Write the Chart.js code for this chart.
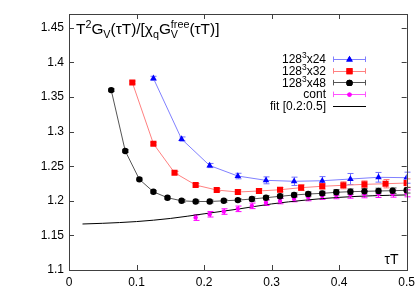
<!DOCTYPE html>
<html>
<head>
<meta charset="utf-8">
<script src="https://cdn.jsdelivr.net/npm/chart.js@4"></script>
<style>
  html, body { margin: 0; padding: 0; background: #fff; }
  canvas { display: block; }
</style>
</head>
<body>
<canvas id="chart" width="420" height="294"></canvas>
<script>
// values
const tau24 = [0.125, 0.1667, 0.2083, 0.25, 0.2917, 0.3333, 0.375, 0.4167, 0.4583, 0.5];
const val24 = [1.377, 1.2893, 1.251, 1.2358, 1.2296, 1.2282, 1.229, 1.2315, 1.234, 1.2334];
const err24 = [0.003, 0.003, 0.003, 0.004, 0.005, 0.006, 0.006, 0.008, 0.007, 0.008];

const tau32 = [0.09375, 0.125, 0.15625, 0.1875, 0.21875, 0.25, 0.28125, 0.3125, 0.34375, 0.375, 0.40625, 0.4375, 0.46875, 0.5];
const val32 = [1.371, 1.2825, 1.2406, 1.2228, 1.2156, 1.2127, 1.2142, 1.216, 1.219, 1.221, 1.2224, 1.2238, 1.2247, 1.2257];
const err32 = [0.002, 0.002, 0.002, 0.002, 0.002, 0.003, 0.003, 0.003, 0.004, 0.004, 0.005, 0.005, 0.006, 0.006];

const tau48 = [0.0625, 0.0833, 0.1042, 0.125, 0.1458, 0.1667, 0.1875, 0.2083, 0.2292, 0.25, 0.2708,
  0.2917, 0.3125, 0.3333, 0.3542, 0.375, 0.3958, 0.4167, 0.4375, 0.4583, 0.4792, 0.5];
const val48 = [1.36, 1.272, 1.231, 1.213, 1.2045, 1.2, 1.199, 1.199, 1.2, 1.201, 1.2026,
  1.2045, 1.2065, 1.2084, 1.2098, 1.2108, 1.2123, 1.2132, 1.2137, 1.2142, 1.2146, 1.2152];
const err48 = [0.002, 0.002, 0.002, 0.002, 0.002, 0.002, 0.002, 0.002, 0.002, 0.002, 0.003,
  0.003, 0.003, 0.003, 0.003, 0.003, 0.004, 0.004, 0.004, 0.004, 0.004, 0.004];

const tauCont = [0.1875, 0.2083, 0.2292, 0.25, 0.2708, 0.2917, 0.3125, 0.3333, 0.3542, 0.375, 0.3958,
  0.4167, 0.4375, 0.4583, 0.4792, 0.5];
const valCont = [1.1757, 1.1806, 1.1845, 1.1884, 1.1927, 1.1973, 1.1997, 1.2026, 1.205, 1.207, 1.208,
  1.2088, 1.2094, 1.2098, 1.2103, 1.2108];
const errCont = [0.004, 0.004, 0.004, 0.004, 0.004, 0.004, 0.004, 0.004, 0.005, 0.005, 0.005,
  0.005, 0.005, 0.005, 0.005, 0.005];

const tauFit = [0.02, 0.05, 0.1, 0.15, 0.2, 0.25, 0.3, 0.35, 0.4, 0.45, 0.5];
const valFit = [1.1665, 1.1675, 1.17, 1.1745, 1.1812, 1.188, 1.1955, 1.201, 1.205, 1.2073, 1.2085];

const xTicks = [0, 0.1, 0.2, 0.3, 0.4, 0.5];
const yTicks = [1.1, 1.15, 1.2, 1.25, 1.3, 1.35, 1.4, 1.45];

const FONT = "'Liberation Sans', Arial, Helvetica, sans-serif";

const pts = (xs, ys) => xs.map((x, i) => ({ x, y: ys[i] }));

const series = [
  { label: '128', lat: 'x24', xs: tau24, ys: val24, err: err24, color: '#0000ff', line: '#8080ff', errc: '#7070ff', style: 'triangle', r: 3.8 },
  { label: '128', lat: 'x32', xs: tau32, ys: val32, err: err32, color: '#ff0000', line: '#ff8080', errc: '#ff7070', style: 'rect', r: 4.3 },
  { label: '128', lat: 'x48', xs: tau48, ys: val48, err: err48, color: '#000000', line: '#555555', errc: '#555555', style: 'circle', r: 3.2 },
  { label: 'cont', xs: tauCont, ys: valCont, err: errCont, color: '#ff00ff', line: '#ff55ff', errc: '#ff00ff', style: 'circle', r: 2.2, noLine: true },
];

const datasets = series.map((s) => ({
  label: s.label + (s.lat || ''),
  data: pts(s.xs, s.ys),
  showLine: !s.noLine,
  borderColor: s.line,
  borderWidth: 1,
  pointStyle: s.style,
  pointRadius: s.r,
  pointBackgroundColor: s.color,
  pointBorderColor: s.color,
  pointBorderWidth: 0,
  errors: s.err,
  errColor: s.errc,
}));
datasets.push({
  label: 'fit [0.2:0.5]',
  data: pts(tauFit, valFit),
  showLine: true,
  borderColor: '#000000',
  borderWidth: 1,
  pointRadius: 0,
  cubicInterpolationMode: 'monotone',
});

// rich text runs: {t, sub, sup}
function richWidth(ctx, parts, size) {
  let w = 0;
  parts.forEach((p) => {
    if (p.t) { ctx.font = size + 'px ' + FONT; w += ctx.measureText(p.t).width; }
    let sw = 0;
    ctx.font = size * 0.7 + 'px ' + FONT;
    if (p.sub) sw = Math.max(sw, ctx.measureText(p.sub).width);
    if (p.sup) sw = Math.max(sw, ctx.measureText(p.sup).width);
    w += sw;
  });
  return w;
}
function drawRich(ctx, parts, x, y, size) {
  ctx.textBaseline = 'alphabetic';
  ctx.textAlign = 'left';
  parts.forEach((p) => {
    if (p.t) {
      ctx.font = size + 'px ' + FONT;
      ctx.fillText(p.t, x, y);
      x += ctx.measureText(p.t).width;
    }
    ctx.font = size * 0.7 + 'px ' + FONT;
    let sw = 0;
    if (p.sub) { ctx.fillText(p.sub, x, y + size * 0.28); sw = Math.max(sw, ctx.measureText(p.sub).width); }
    if (p.sup) { ctx.fillText(p.sup, x, y - size * 0.42); sw = Math.max(sw, ctx.measureText(p.sup).width); }
    x += sw;
  });
}

const errorBars = {
  id: 'errorBars',
  beforeDatasetsDraw(chart) {
    const { ctx, scales: { x, y } } = chart;
    ctx.save();
    ctx.lineWidth = 1;
    chart.data.datasets.forEach((ds) => {
      if (!ds.errors) return;
      ctx.strokeStyle = ds.errColor;
      ds.data.forEach((p, i) => {
        const px = Math.round(x.getPixelForValue(p.x)) + 0.5;
        const y1 = y.getPixelForValue(p.y - ds.errors[i]);
        const y2 = y.getPixelForValue(p.y + ds.errors[i]);
        ctx.beginPath();
        ctx.moveTo(px, y1); ctx.lineTo(px, y2);
        ctx.moveTo(px - 3, y1); ctx.lineTo(px + 3, y1);
        ctx.moveTo(px - 3, y2); ctx.lineTo(px + 3, y2);
        ctx.stroke();
      });
    });
    ctx.restore();
  },
};

const frame = {
  id: 'frame',
  afterDraw(chart) {
    const { ctx, chartArea: a, scales: { x, y } } = chart;
    ctx.save();
    ctx.strokeStyle = '#404040';
    ctx.lineWidth = 1;
    ctx.strokeRect(Math.round(a.left) + 0.5, Math.round(a.top) + 0.5,
      Math.round(a.right - a.left), Math.round(a.bottom - a.top));
    ctx.beginPath();
    xTicks.forEach((v) => {
      const px = Math.round(x.getPixelForValue(v)) + 0.5;
      ctx.moveTo(px, a.bottom); ctx.lineTo(px, a.bottom - 5);
      ctx.moveTo(px, a.top); ctx.lineTo(px, a.top + 5);
    });
    yTicks.forEach((v) => {
      const py = Math.round(y.getPixelForValue(v)) + 0.5;
      ctx.moveTo(a.left, py); ctx.lineTo(a.left + 5, py);
      ctx.moveTo(a.right, py); ctx.lineTo(a.right - 5, py);
    });
    ctx.stroke();

    // title and axis label inside the plot
    ctx.fillStyle = '#000';
    drawRich(ctx, [
      { t: 'T', sup: '2' }, { t: 'G', sub: 'V' }, { t: '(τT)/[χ', sub: 'q' },
      { t: 'G', sub: 'V', sup: 'free' }, { t: '(τT)]' },
    ], a.left + 7, a.top + 20, 15.4);
    ctx.font = '14px ' + FONT;
    ctx.textAlign = 'right';
    ctx.fillText('τT', a.right - 8, a.bottom - 6);

    // legend
    const rows = [...series, { label: 'fit [0.2:0.5]', fit: true }];
    rows.forEach((s, i) => {
      const cy = 59 + i * 11.7;
      const parts = s.lat ? [{ t: s.label, sup: '3' }, { t: s.lat }] : [{ t: s.label }];
      ctx.fillStyle = '#000';
      const w = richWidth(ctx, parts, 12);
      drawRich(ctx, parts, 326 - w, cy + 4.3, 12);
      ctx.strokeStyle = s.fit ? '#000' : s.line;
      ctx.beginPath();
      ctx.moveTo(333, Math.round(cy) + 0.5); ctx.lineTo(366, Math.round(cy) + 0.5);
      if (!s.fit) {
        ctx.moveTo(333.5, cy - 2.5); ctx.lineTo(333.5, cy + 3);
        ctx.moveTo(365.5, cy - 2.5); ctx.lineTo(365.5, cy + 3);
      }
      ctx.stroke();
      if (!s.fit) {
        ctx.fillStyle = s.color;
        Chart.helpers.drawPoint(ctx, { pointStyle: s.style, radius: s.r, rotation: 0, borderWidth: 0 }, 349.5, cy + 0.5);
        ctx.fill();
      }
    });
    ctx.restore();
  },
};

new Chart(document.getElementById('chart'), {
  type: 'scatter',
  data: { datasets },
  options: {
    responsive: false,
    animation: false,
    events: [],
    layout: { padding: { top: 14, right: 13, left: 0, bottom: 0 } },
    plugins: { legend: { display: false }, tooltip: { enabled: false } },
    scales: {
      x: {
        type: 'linear', min: 0, max: 0.5,
        afterFit: (s) => { s.height = 24; },
        afterBuildTicks: (s) => { s.ticks = xTicks.map((v) => ({ value: v })); },
        ticks: { font: { family: FONT, size: 12 }, color: '#000', padding: 5, callback: (v) => String(+v.toFixed(2)) },
        grid: { display: false, drawTicks: false },
        border: { display: false },
      },
      y: {
        type: 'linear', min: 1.1, max: 1.47,
        afterFit: (s) => { s.width = 69; },
        afterBuildTicks: (s) => { s.ticks = yTicks.map((v) => ({ value: v })); },
        ticks: { font: { family: FONT, size: 12 }, color: '#000', padding: 5, callback: (v) => String(+v.toFixed(2)) },
        grid: { display: false, drawTicks: false },
        border: { display: false },
      },
    },
  },
  plugins: [errorBars, frame],
});
</script>
</body>
</html>
